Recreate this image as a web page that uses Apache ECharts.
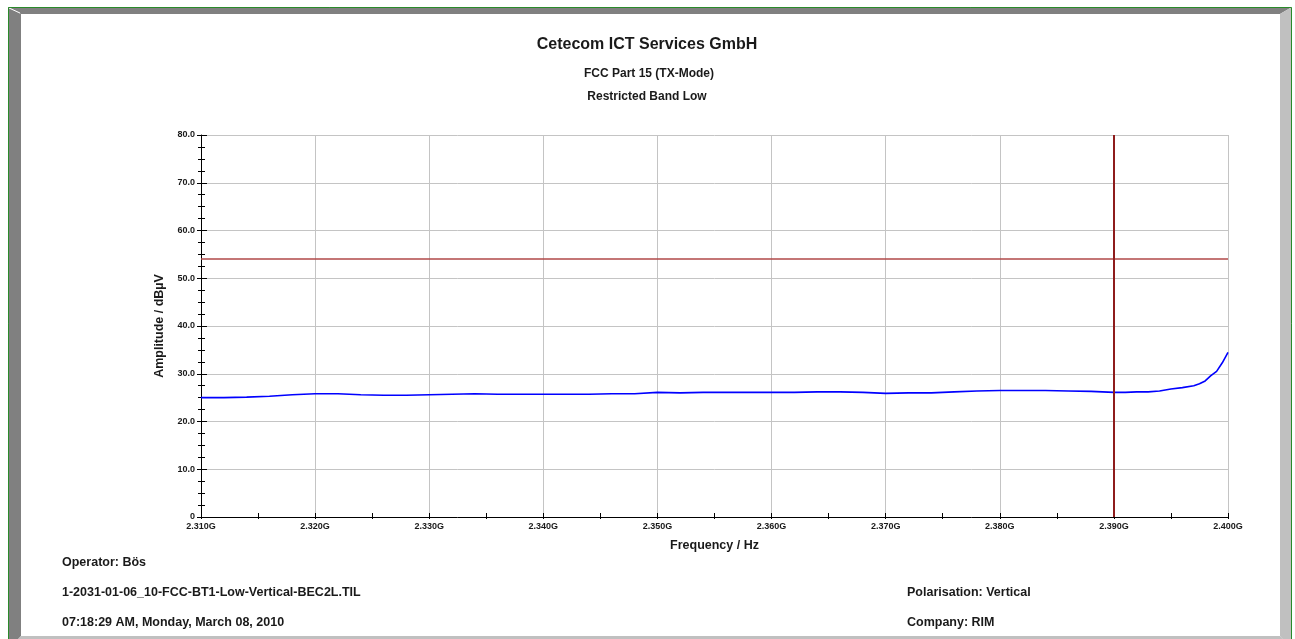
<!DOCTYPE html>
<html>
<head>
<meta charset="utf-8">
<script src="https://cdn.jsdelivr.net/npm/echarts@6/dist/echarts.min.js"></script>
<style>
  html, body { margin: 0; padding: 0; background: #ffffff; }
  #chart { width: 1295px; height: 639px; }
</style>
</head>
<body>
<div id="chart"></div>
<script>
// Measured trace: frequency in MHz, amplitude in dBµV
const freqMHz = [
  2310, 2312, 2314, 2316, 2318, 2320, 2322, 2324, 2326, 2328,
  2330, 2332, 2334, 2336, 2338, 2340, 2342, 2344, 2346, 2348,
  2350, 2352, 2354, 2356, 2358, 2360, 2362, 2364, 2366, 2368,
  2370, 2372, 2374, 2376, 2378, 2380, 2382, 2384, 2386, 2388,
  2390, 2391, 2392, 2393, 2394, 2395, 2396, 2397, 2397.5, 2398,
  2398.5, 2399, 2399.5, 2400
];
const amplitude = [
  25.0, 25.0, 25.1, 25.3, 25.6, 25.8, 25.8, 25.6, 25.5, 25.5,
  25.6, 25.7, 25.8, 25.7, 25.7, 25.7, 25.7, 25.7, 25.8, 25.8,
  26.1, 26.0, 26.1, 26.1, 26.1, 26.1, 26.1, 26.2, 26.2, 26.1,
  25.9, 26.0, 26.0, 26.2, 26.4, 26.5, 26.5, 26.5, 26.4, 26.3,
  26.1, 26.1, 26.2, 26.2, 26.4, 26.8, 27.1, 27.5, 27.9, 28.5,
  29.6, 30.5, 32.3, 34.5
];

// Limit line and restricted band edge
const limitLevel = [54];
const bandEdgeMHz = [2390];

// Header and footer texts
const titleLines = ['Cetecom ICT Services GmbH', 'FCC Part 15 (TX-Mode)', 'Restricted Band Low'];
const footerLeft = ['Operator: Bös', '1-2031-01-06_10-FCC-BT1-Low-Vertical-BEC2L.TIL', '07:18:29 AM, Monday, March 08, 2010'];
const footerRight = ['Polarisation: Vertical', 'Company: RIM'];

const FONT = '"Liberation Sans", Arial, Helvetica, sans-serif';
const TXT = '#1a1a1a';

const chart = echarts.init(document.getElementById('chart'), null, { renderer: 'canvas' });

const traceData = freqMHz.map((f, i) => [f, amplitude[i]]);

const xBase = {
  type: 'value', min: 2310, max: 2400, interval: 10,
  gridIndex: 0, position: 'bottom'
};
const yBase = {
  type: 'value', min: 0, max: 80, interval: 10,
  gridIndex: 0, position: 'left'
};

function footerText(x, y, text) {
  return {
    type: 'text', silent: true,
    style: { x: x, y: y, text: text, fill: TXT, font: 'bold 12.5px ' + FONT, textVerticalAlign: 'middle' }
  };
}

chart.setOption({
  backgroundColor: '#ffffff',
  animation: false,
  grid: { left: 201, top: 135, width: 1027, height: 382, containLabel: false },
  xAxis: [
    Object.assign({}, xBase, {
      name: 'Frequency / Hz',
      nameLocation: 'middle',
      nameGap: 22,
      nameTextStyle: { fontFamily: FONT, fontWeight: 'bold', fontSize: 12.5, color: TXT },
      axisLine: { show: true, lineStyle: { color: '#000', width: 1 } },
      axisTick: { show: true, inside: true, length: 4, lineStyle: { color: '#000' } },
      minorTick: { show: true, splitNumber: 2, length: 4, lineStyle: { color: '#000' } },
      axisLabel: {
        show: true, margin: 5, fontFamily: FONT, fontWeight: 'bold', fontSize: 9, color: TXT,
        formatter: v => (v / 1000).toFixed(3) + 'G'
      },
      splitLine: { show: true, lineStyle: { color: '#c4c4c4', width: 1 } }
    }),
    Object.assign({}, xBase, {
      axisLine: { show: false },
      axisTick: { show: true, inside: false, length: 2, lineStyle: { color: '#000' } },
      minorTick: { show: true, splitNumber: 2, length: 2, lineStyle: { color: '#000' } },
      axisLabel: { show: false },
      splitLine: { show: false }
    })
  ],
  yAxis: [
    Object.assign({}, yBase, {
      name: 'Amplitude / dBµV',
      nameLocation: 'middle',
      nameGap: 35,
      nameRotate: 90,
      nameTextStyle: { fontFamily: FONT, fontWeight: 'bold', fontSize: 12.5, color: TXT },
      axisLine: { show: true, lineStyle: { color: '#000', width: 1 } },
      axisTick: { show: true, inside: true, length: 6, lineStyle: { color: '#000' } },
      minorTick: { show: true, splitNumber: 4, length: 4, lineStyle: { color: '#000' } },
      axisLabel: {
        show: true, margin: 6, fontFamily: FONT, fontWeight: 'bold', fontSize: 9, color: TXT,
        formatter: v => (v === 0 ? '0' : v.toFixed(1))
      },
      splitLine: { show: true, lineStyle: { color: '#c4c4c4', width: 1 } }
    }),
    Object.assign({}, yBase, {
      axisLine: { show: false },
      axisTick: { show: true, inside: false, length: 4, lineStyle: { color: '#000' } },
      minorTick: { show: true, splitNumber: 4, length: 3, lineStyle: { color: '#000' } },
      axisLabel: { show: false },
      splitLine: { show: false }
    })
  ],
  series: [
    {
      type: 'line',
      xAxisIndex: 0, yAxisIndex: 0,
      data: traceData,
      showSymbol: false,
      symbol: 'none',
      smooth: false,
      lineStyle: { color: '#0000ff', width: 1.6 },
      silent: true,
      z: 4,
      markLine: {
        silent: true,
        symbol: ['none', 'none'],
        label: { show: false },
        lineStyle: { color: '#b04848', width: 1.6, type: 'solid' },
        emphasis: { disabled: true },
        data: [
          { yAxis: limitLevel[0], lineStyle: { color: '#b04848', width: 1.6, type: 'solid' } },
          { xAxis: bandEdgeMHz[0], lineStyle: { color: '#8e1c1c', width: 2, type: 'solid' } }
        ]
      }
    }
  ],
  graphic: [
    // bevelled frame
    { type: 'polygon', silent: true, z: 0, shape: { points: [[8, 7], [1292, 7], [1280, 14], [21, 14]] }, style: { fill: '#808080' } },
    { type: 'polygon', silent: true, z: 0, shape: { points: [[8, 7], [21, 14], [21, 636], [8, 650]] }, style: { fill: '#808080' } },
    { type: 'polygon', silent: true, z: 0, shape: { points: [[1292, 7], [1292, 650], [1280, 636], [1280, 14]] }, style: { fill: '#c0c0c0' } },
    { type: 'polygon', silent: true, z: 0, shape: { points: [[21, 636], [1280, 636], [1292, 650], [8, 650]] }, style: { fill: '#c0c0c0' } },
    { type: 'line', silent: true, z: 1, shape: { x1: 9, y1: 8, x2: 20, y2: 13 }, style: { stroke: '#ffffff', lineWidth: 1 } },
    { type: 'rect', silent: true, z: 1, shape: { x: 8.5, y: 7.5, width: 1283, height: 640 }, style: { fill: null, stroke: '#2a8a2a', lineWidth: 1 } },
    // header
    { type: 'text', silent: true, style: { x: 647, y: 45, text: titleLines[0], fill: TXT, font: 'bold 16px ' + FONT, textAlign: 'center', textVerticalAlign: 'middle' } },
    { type: 'text', silent: true, style: { x: 649, y: 74, text: titleLines[1], fill: TXT, font: 'bold 12px ' + FONT, textAlign: 'center', textVerticalAlign: 'middle' } },
    { type: 'text', silent: true, style: { x: 647, y: 97, text: titleLines[2], fill: TXT, font: 'bold 12px ' + FONT, textAlign: 'center', textVerticalAlign: 'middle' } },
    // footer
    footerText(62, 563, footerLeft[0]),
    footerText(62, 593, footerLeft[1]),
    footerText(62, 623, footerLeft[2]),
    footerText(907, 593, footerRight[0]),
    footerText(907, 623, footerRight[1])
  ]
});
</script>
</body>
</html>
